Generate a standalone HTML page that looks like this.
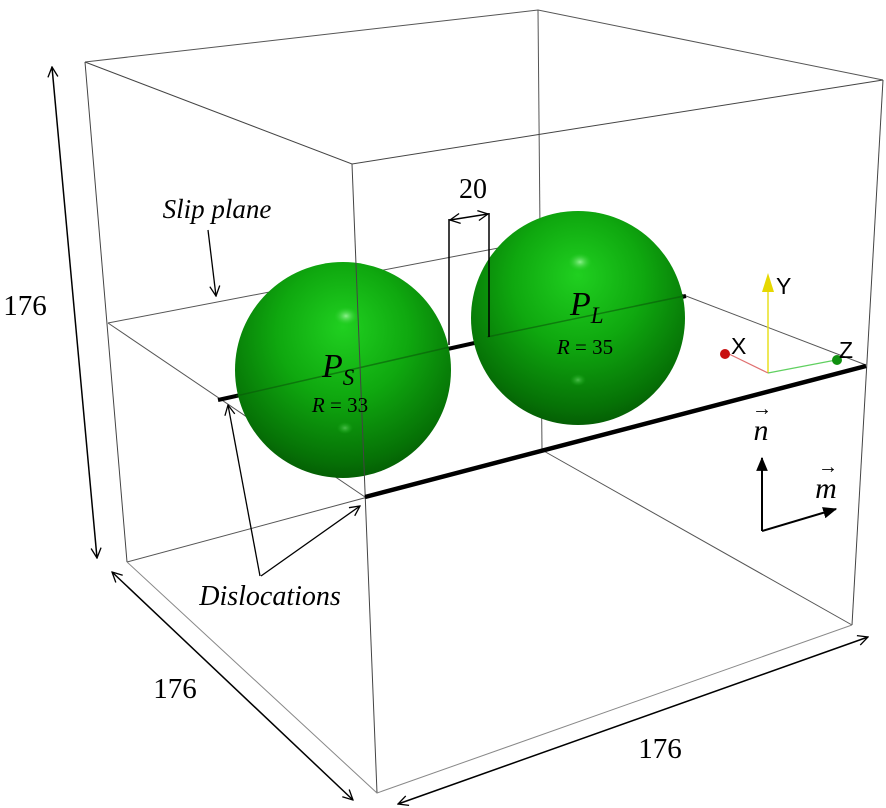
<!DOCTYPE html>
<html><head><meta charset="utf-8"><style>
html,body{margin:0;padding:0;background:#fff;}
svg{display:block;}
text{font-family:"Liberation Serif",serif;fill:#000;}
</style></head><body>
<svg width="886" height="808" viewBox="0 0 886 808" xmlns="http://www.w3.org/2000/svg">
<defs>
<radialGradient id="g1" cx="0.5" cy="0.35" r="0.68" fx="0.5" fy="0.3">
<stop offset="0" stop-color="#20d020"/>
<stop offset="0.45" stop-color="#0fa80f"/>
<stop offset="0.85" stop-color="#067206"/>
<stop offset="1" stop-color="#045804"/>
</radialGradient>
<radialGradient id="hl" cx="0.5" cy="0.5" r="0.5">
<stop offset="0" stop-color="#9af59a" stop-opacity="0.9"/>
<stop offset="1" stop-color="#2bd02b" stop-opacity="0"/>
</radialGradient>
<marker id="oa" viewBox="0 0 12 12" refX="11" refY="6" markerWidth="12" markerHeight="12" markerUnits="userSpaceOnUse" orient="auto-start-reverse">
<path d="M1,1 L11,6 L1,11" fill="none" stroke="#000" stroke-width="1.3"/>
</marker>
<marker id="fa" viewBox="0 0 12 12" refX="11" refY="6" markerWidth="14" markerHeight="14" markerUnits="userSpaceOnUse" orient="auto">
<path d="M0,1 L12,6 L0,11 Z" fill="#000"/>
</marker>
</defs>

<g stroke="#555" stroke-width="1" fill="none">
<polyline points="85,62 538,10 883,80"/>
<line x1="538" y1="10" x2="542" y2="450"/>
<line x1="127" y1="562" x2="542" y2="450"/>
<line x1="542" y1="450" x2="852" y2="625"/>
<line x1="108" y1="323" x2="540" y2="240"/>
<line x1="540" y1="240" x2="866" y2="365"/>
<line x1="108" y1="323" x2="365" y2="497"/>
</g>
<line x1="218" y1="400" x2="686" y2="296" stroke="#000" stroke-width="4"/>

<circle cx="343" cy="370" r="108" fill="url(#g1)"/>
<ellipse cx="346" cy="316" rx="12" ry="9" fill="url(#hl)"/>
<ellipse cx="345" cy="428" rx="8" ry="6" fill="url(#hl)" opacity="0.5"/>
<circle cx="578" cy="318" r="107" fill="url(#g1)"/>
<ellipse cx="580" cy="262" rx="12" ry="9" fill="url(#hl)"/>
<ellipse cx="578" cy="380" rx="8" ry="6" fill="url(#hl)" opacity="0.5"/>
<line x1="236" y1="396" x2="450" y2="347" stroke="#0a5a0a" stroke-width="1.5" opacity="0.6"/>
<line x1="487" y1="337" x2="684" y2="296" stroke="#0a5a0a" stroke-width="1.5" opacity="0.6"/>

<g stroke="#444" stroke-width="1" fill="none">
<polyline points="85,62 352,164 883,80"/>
<line x1="85" y1="62" x2="127" y2="562"/>
<line x1="883" y1="80" x2="852" y2="625"/>
<line x1="352" y1="164" x2="377" y2="793"/>
<polyline points="127,562 377,793 852,625" stroke="#888"/>
</g>
<line x1="365" y1="497" x2="866" y2="366" stroke="#000" stroke-width="4.5"/>

<g stroke="#000" stroke-width="1.5" fill="none">
<line x1="449" y1="345" x2="449" y2="219"/>
<line x1="489" y1="337" x2="489" y2="213"/>
<line x1="450" y1="220" x2="488" y2="214" marker-start="url(#oa)" marker-end="url(#oa)"/>
</g>
<text x="473" y="198" font-size="28" text-anchor="middle">20</text>

<text x="217" y="218" font-size="27" font-style="italic" text-anchor="middle">Slip plane</text>
<line x1="208" y1="230" x2="216" y2="296" stroke="#000" stroke-width="1.3" marker-end="url(#oa)"/>

<text x="270" y="605" font-size="28" font-style="italic" text-anchor="middle">Dislocations</text>
<g stroke="#000" stroke-width="1.3" fill="none">
<line x1="260" y1="576" x2="228" y2="405" marker-end="url(#oa)"/>
<line x1="261" y1="576" x2="360" y2="506" marker-end="url(#oa)"/>
</g>

<text x="322" y="377" font-size="34" font-style="italic">P<tspan font-size="23" dy="8">S</tspan></text>
<text x="340" y="412" font-size="21" text-anchor="middle"><tspan font-style="italic">R</tspan> = 33</text>
<text x="570" y="315" font-size="34" font-style="italic">P<tspan font-size="23" dy="8">L</tspan></text>
<text x="585" y="354" font-size="21" text-anchor="middle"><tspan font-style="italic">R</tspan> = 35</text>

<g stroke="#000" stroke-width="1.5" fill="none">
<line x1="52" y1="67" x2="97" y2="558" marker-start="url(#oa)" marker-end="url(#oa)"/>
<line x1="112" y1="572" x2="353" y2="800" marker-start="url(#oa)" marker-end="url(#oa)"/>
<line x1="398" y1="804" x2="868" y2="637" marker-start="url(#oa)" marker-end="url(#oa)"/>
</g>
<text x="25" y="315" font-size="29" text-anchor="middle">176</text>
<text x="175" y="698" font-size="29" text-anchor="middle">176</text>
<text x="660" y="758" font-size="29" text-anchor="middle">176</text>

<line x1="768" y1="373" x2="768" y2="290" stroke="#e8e020" stroke-width="1.5"/>
<path d="M762,292 L768,273 L774,292 Z" fill="#e6d800"/>
<line x1="768" y1="373" x2="727" y2="353" stroke="#e07070" stroke-width="1.2"/>
<circle cx="725" cy="354" r="5" fill="#c81010"/>
<line x1="768" y1="373" x2="836" y2="360" stroke="#60d060" stroke-width="1.2"/>
<circle cx="837" cy="360" r="5" fill="#109010"/>
<text x="776" y="294" font-size="23" style="font-family:'Liberation Sans',sans-serif">Y</text>
<text x="731" y="354" font-size="23" style="font-family:'Liberation Sans',sans-serif">X</text>
<text x="839" y="358" font-size="23" style="font-family:'Liberation Sans',sans-serif">Z</text>

<g stroke="#000" stroke-width="2" fill="none">
<line x1="762" y1="531" x2="762" y2="458" marker-end="url(#fa)"/>
<line x1="762" y1="531" x2="836" y2="509" marker-end="url(#fa)"/>
</g>
<text x="761" y="440" font-size="30" font-style="italic" text-anchor="middle">n</text>
<text x="762" y="415" font-size="20" text-anchor="middle">→</text>
<text x="826" y="498" font-size="30" font-style="italic" text-anchor="middle">m</text>
<text x="828" y="473" font-size="20" text-anchor="middle">→</text>
</svg>
</body></html>
